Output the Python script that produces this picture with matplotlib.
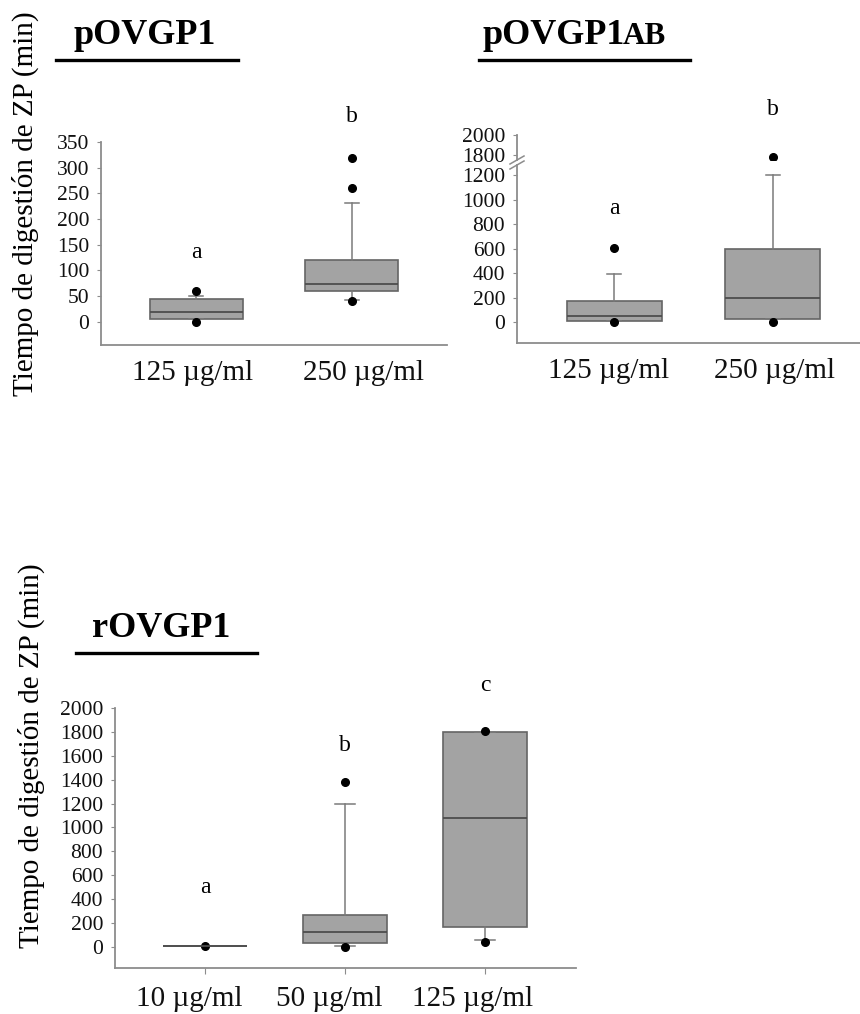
import matplotlib
matplotlib.use("Agg")
import matplotlib.pyplot as plt
from matplotlib.lines import Line2D
from matplotlib.transforms import ScaledTranslation

# Box-plot values (min of ZP digestion)

# pOVGP1
p_labels = ["125 µg/ml", "250 µg/ml"]
p_q1 = [5, 60]
p_med = [20, 73]
p_q3 = [45, 120]
p_lo = [5, 42]
p_hi = [50, 232]
p_fliers = [[0, 60], [40, 260, 318]]
p_letters = ["a", "b"]
p_letter_y = [135, 400]
p_ticks = [0, 50, 100, 150, 200, 250, 300, 350]

# pOVGP1AB
ab_labels = ["125 µg/ml", "250 µg/ml"]
ab_q1 = [10, 25]
ab_med = [50, 200]
ab_q3 = [172, 600]
ab_lo = [10, 25]
ab_hi = [395, 1200]
ab_fliers = [[0, 604], [0, 1780]]
ab_letters = ["a", "b"]
ab_letter_y = [925, 1731]
ab_ticks_low = [0, 200, 400, 600, 800, 1000, 1200]
ab_ticks_high = [1800, 2000]

# rOVGP1
r_labels = ["10 µg/ml", "50 µg/ml", "125 µg/ml"]
r_q1 = [5, 33, 170]
r_med = [5, 123, 1082]
r_q3 = [5, 265, 1800]
r_lo = [5, 5, 58]
r_hi = [5, 1200, 1800]
r_fliers = [[12], [0, 1380], [44, 1805]]
r_letters = ["a", "b", "c"]
r_letter_y = [494, 1682, 2192]
r_ticks = [0, 200, 400, 600, 800, 1000, 1200, 1400, 1600, 1800, 2000]

YLABEL = "Tiempo de digestión de ZP (min)"

# Style ######################################################################

W, H = 860, 1014
plt.rcParams["font.family"] = ["Liberation Serif", "DejaVu Serif"]

BOX_FILL = "#a3a3a3"
BOX_EDGE = "#656565"
MED_COL = "#4d4d4d"
WHISK = "#7a7a7a"
SPINE = "#8c8c8c"
TICK_FS = 15.5
CAT_FS = 21


def rect(x0, y0, x1, y1):
    # pixel box (top-left origin) -> figure fraction rect
    return [x0 / W, 1 - y1 / H, (x1 - x0) / W, (y1 - y0) / H]


def stats(labels, q1, med, q3, lo, hi, fliers):
    return [dict(label=l, q1=a, med=m, q3=b, whislo=w0, whishi=w1, fliers=f)
            for l, a, m, b, w0, w1, f in zip(labels, q1, med, q3, lo, hi, fliers)]


def draw_boxes(ax, st, capw):
    pos = list(range(1, len(st) + 1))
    ax.bxp(st, positions=pos, widths=0.6, patch_artist=True, capwidths=capw,
           boxprops=dict(facecolor=BOX_FILL, edgecolor=BOX_EDGE, linewidth=1.2),
           medianprops=dict(color=MED_COL, linewidth=1.3),
           whiskerprops=dict(color=WHISK, linewidth=1.1),
           capprops=dict(color=WHISK, linewidth=1.1),
           flierprops=dict(marker="o", markerfacecolor="black",
                           markeredgecolor="black", markersize=5.5))
    return pos


def style_axes(ax, xtick_len=0, xpad=10.5):
    for s in ("top", "right"):
        ax.spines[s].set_visible(False)
    for s in ("left", "bottom"):
        ax.spines[s].set_color(SPINE)
        ax.spines[s].set_linewidth(1.3)
    ax.tick_params(axis="y", length=3, color=SPINE, labelsize=TICK_FS,
                   pad=5.5, labelcolor="#111111")
    ax.tick_params(axis="x", length=xtick_len, color=SPINE, labelsize=CAT_FS,
                   pad=xpad, labelcolor="#111111")


def shift_labels(ax, shifts):
    # nudge category labels sideways (pixels), as in the original layout
    for lab, dx in zip(ax.get_xticklabels(), shifts):
        lab.set_transform(lab.get_transform()
                          + ScaledTranslation(dx / 100, 0, fig.dpi_scale_trans))


def title(x, y, text, x0, x1, yl, extra=None):
    fig.text(x / W, 1 - y / H, text, fontsize=26, fontweight="bold",
             ha="left", va="baseline")
    if extra:
        fig.text(extra[0] / W, 1 - y / H, extra[1], fontsize=22.5,
                 fontweight="bold", ha="left", va="baseline")
    fig.add_artist(Line2D([x0 / W, x1 / W], [1 - yl / H, 1 - yl / H],
                          color="black", linewidth=2.4))


fig = plt.figure(figsize=(W / 100, H / 100), dpi=100)

# 1. pOVGP1 ##################################################################

ax1 = fig.add_axes(rect(101, 142, 447, 345))
pos = draw_boxes(ax1, stats(p_labels, p_q1, p_med, p_q3, p_lo, p_hi, p_fliers), 0.09)
ax1.set_xlim(0.385, 2.615)
ax1.set_ylim(-45, 350)
ax1.set_yticks(p_ticks)
style_axes(ax1)
shift_labels(ax1, [-4, 12])
for x, t, y in zip(pos, p_letters, p_letter_y):
    ax1.text(x, y, t, ha="center", va="center", fontsize=17, clip_on=False)
title(73, 44, "pOVGP1", 56, 238, 60)

# 2. pOVGP1AB (broken y axis) ################################################

ab_st = stats(ab_labels, ab_q1, ab_med, ab_q3, ab_lo, ab_hi, ab_fliers)
ax2 = fig.add_axes(rect(517, 165, 870, 343))
ax2t = fig.add_axes(rect(517, 135, 870, 160))
pos = draw_boxes(ax2, ab_st, 0.09)
draw_boxes(ax2t, ab_st, 0.09)
for a in (ax2, ax2t):
    a.set_xlim(0.385, 2.615)
    style_axes(a)
ax2.set_ylim(-171, 1282)
ax2.set_yticks(ab_ticks_low)
ax2t.set_ylim(1750, 2000)
ax2t.set_yticks(ab_ticks_high)
ax2t.spines["bottom"].set_visible(False)
ax2t.tick_params(axis="x", bottom=False, labelbottom=False)
ax2t.patch.set_alpha(0)
shift_labels(ax2, [-6, 2])

# break marks across the left spine
d = 7 / 353
ax2.plot([-d, d], [1 - 4 / 178, 1 + 4 / 178], transform=ax2.transAxes,
         color=SPINE, lw=1.1, clip_on=False)
ax2t.plot([-d, d], [-4 / 25, 4 / 25], transform=ax2t.transAxes,
          color=SPINE, lw=1.1, clip_on=False)

for x, t, y in zip(pos, ab_letters, ab_letter_y):
    ax2.text(x, y, t, ha="center", va="center", fontsize=17, clip_on=False)
title(483, 44, "pOVGP1", 479, 690, 60, extra=(623, "AB"))

# 3. rOVGP1 ##################################################################

ax3 = fig.add_axes(rect(115, 708, 576, 968))
pos = draw_boxes(ax3, stats(r_labels, r_q1, r_med, r_q3, r_lo, r_hi, r_fliers), 0.14)
ax3.set_xlim(0.357, 3.65)
ax3.set_ylim(-176, 2000)
ax3.set_yticks(r_ticks)
style_axes(ax3, xtick_len=4, xpad=9)
shift_labels(ax3, [-16, -16, -12])
for x, t, y in zip(pos, r_letters, r_letter_y):
    ax3.text(x, y, t, ha="center", va="center", fontsize=17, clip_on=False)
title(92, 637, "rOVGP1", 76, 257, 653)

# y labels
fig.text(25 / W, 1 - 204 / H, YLABEL, rotation=90, fontsize=21,
         ha="center", va="center")
fig.text(31 / W, 1 - 756 / H, YLABEL, rotation=90, fontsize=21,
         ha="center", va="center")

fig.savefig("out.png", dpi=100)
